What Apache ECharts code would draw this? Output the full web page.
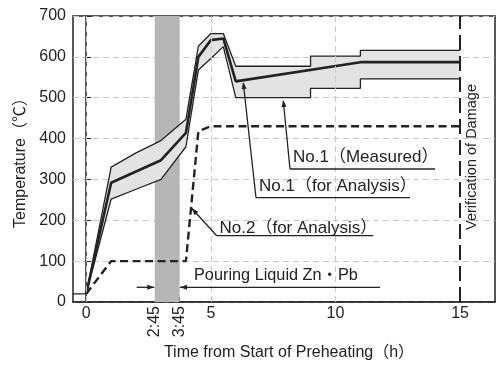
<!DOCTYPE html>
<html><head><meta charset="utf-8">
<script src="https://cdn.jsdelivr.net/npm/echarts@6/dist/echarts.min.js"></script>
<style>html,body{margin:0;padding:0;background:#fff}#c{width:497px;height:366px}</style>
</head><body><div id="c"></div>
<script>
// ---- data (hours, °C) ----
const xMin = -0.53, xMax = 16.4;
const preheatX = [xMin, 0];
const preheatT = [20, 20];
const bandX  = [0, 1, 2, 3, 4, 4.5, 5, 5.5, 6, 9, 9, 11, 11, 15];
const upperT = [20, 330, 365, 395, 447, 626, 657, 657, 577, 577, 602, 602, 616, 616];
const lowerT = [20, 252, 276, 300, 380, 568, 596, 625, 500, 500, 523, 523, 546, 546];
const no1AnalysisX = [0, 1, 3, 4, 4.5, 5, 5.5, 6, 11, 15];
const no1AnalysisT = [20, 292, 347, 414, 600, 641, 645, 540, 587, 587];
const no2AnalysisX = [0, 1, 4, 4.5, 5, 15];
const no2AnalysisT = [20, 100, 100, 418, 430, 430];
const pouringStart = 2.75, pouringEnd = 3.75;
const damageTime = 15;
const xTickMain = [0, 5, 10, 15];
const xTickPour = [2.75, 3.75];
const xTickPourLabels = {2.75: '2:45', 3.75: '3:45'};
const xGridLines = [0, 5, 10];

const FONT = "'Liberation Sans', Arial, 'Noto Sans CJK JP', sans-serif";
const INK = '#222';
const zip = (xs, ys) => xs.map((x, i) => [x, ys[i]]);

const chart = echarts.init(document.getElementById('c'), null, {renderer: 'canvas'});

function arrowHead(tip, from, len, half) {
  const dx = tip[0] - from[0], dy = tip[1] - from[1];
  const d = Math.hypot(dx, dy), ux = dx / d, uy = dy / d;
  const bx = tip[0] - ux * len, by = tip[1] - uy * len;
  return {type: 'polygon', z: 100, silent: true,
    shape: {points: [tip, [bx - uy * half, by + ux * half], [bx + uy * half, by - ux * half]]},
    style: {fill: INK}};
}
function seg(p1, p2, w) {
  return {type: 'line', z: 100, silent: true, shape: {x1: p1[0], y1: p1[1], x2: p2[0], y2: p2[1]},
    style: {stroke: INK, lineWidth: w || 1.3}};
}
function txt(x, y, s, size) {
  return {type: 'text', z: 100, silent: true, x: x, y: y,
    style: {text: s, font: (size || 17) + 'px ' + FONT, fill: INK, textVerticalAlign: 'middle', textAlign: 'left'}};
}

const graphics = [];
// No.1 (Measured)
graphics.push(txt(293, 157.5, 'No.1（Measured）'));
graphics.push(seg([290, 169], [435, 169]));
graphics.push(seg([290, 169], [283.3, 101]));
graphics.push(arrowHead([283.3, 100], [290, 169], 7, 2.5));
// No.1 (for Analysis)
graphics.push(txt(259, 186, 'No.1（for Analysis）'));
graphics.push(seg([256, 197.7], [410, 197.7]));
graphics.push(seg([256, 197.7], [243.3, 83]));
graphics.push(arrowHead([243.3, 82], [256, 197.7], 7, 2.5));
// No.2 (for Analysis)
graphics.push(txt(219.5, 228.3, 'No.2（for Analysis）'));
graphics.push(seg([216.7, 235.7], [373.3, 235.7]));
graphics.push(seg([216.7, 235.7], [191.7, 208.3]));
graphics.push(arrowHead([191.7, 208.3], [216.7, 235.7], 7, 2.5));
// Pouring
graphics.push(txt(194, 275.7, 'Pouring Liquid Zn・Pb', 16.3));
graphics.push(seg([136.7, 287.3], [154.3, 287.3]));
graphics.push(arrowHead([154.3, 287.3], [136.7, 287.3], 7, 2.5));
graphics.push(seg([380, 287.3], [180, 287.3]));
graphics.push(arrowHead([180, 287.3], [380, 287.3], 7, 2.5));
// Verification of Damage
graphics.push({type: 'text', z: 100, silent: true, x: 472, y: 157, rotation: Math.PI / 2,
  style: {text: 'Verification of Damage', font: '14.5px ' + FONT, fill: INK, textAlign: 'center', textVerticalAlign: 'middle'}});

const option = {
  animation: false,
  backgroundColor: '#fff',
  grid: {left: 73, right: 2, top: 16, bottom: 62.5, show: true, borderColor: INK, borderWidth: 1.5, backgroundColor: 'transparent'},
  xAxis: [{
    type: 'value', min: xMin, max: xMax,
    name: 'Time from Start of Preheating（h）', nameLocation: 'middle', nameGap: 43,
    nameTextStyle: {fontSize: 16, fontFamily: FONT, color: INK, padding: [0, 0, 0, 10]},
    axisLine: {show: true, lineStyle: {color: INK, width: 1.5}},
    axisTick: {show: true, inside: true, length: 5, customValues: [0, 2.75, 3.75, 5, 10, 15], lineStyle: {color: INK, width: 1}},
    axisLabel: {customValues: xTickMain, fontSize: 16, fontFamily: FONT, color: INK, margin: 4},
    splitLine: {show: false}
  }, {
    type: 'value', min: xMin, max: xMax, position: 'bottom',
    axisLine: {show: false}, axisTick: {show: false}, splitLine: {show: false},
    axisLabel: {customValues: xTickPour, rotate: 90, fontSize: 16, fontFamily: FONT, color: INK, margin: 4,
      formatter: v => xTickPourLabels[v] || ''}
  }],
  yAxis: {
    type: 'value', min: 0, max: 700, interval: 100,
    name: 'Temperature（℃）', nameLocation: 'middle', nameGap: 35,
    nameTextStyle: {fontSize: 16, fontFamily: FONT, color: INK},
    axisLine: {show: true, lineStyle: {color: INK, width: 1.5}},
    axisTick: {show: true, inside: true, length: 5, lineStyle: {color: INK}},
    axisLabel: {fontSize: 16, fontFamily: FONT, color: INK, margin: 7},
    splitLine: {show: true, lineStyle: {color: '#c8c8c8', type: [6, 4], width: 1}}
  },
  series: [
    {
      type: 'line', data: [], z: 1, silent: true,
      markArea: {silent: true, itemStyle: {color: '#b6b6b6'}, data: [[{xAxis: pouringStart}, {xAxis: pouringEnd}]]},
      markLine: {silent: true, symbol: 'none', label: {show: false},
        lineStyle: {color: '#c8c8c8', type: [6, 4], width: 1},
        data: xGridLines.map(v => ({xAxis: v}))}
    },
    {
      type: 'custom', z: 2, silent: true, clip: true,
      data: [[bandX[0], lowerT[0], upperT[0]]],
      renderItem: function (params, api) {
        const pts = [];
        for (let i = 0; i < bandX.length; i++) pts.push(api.coord([bandX[i], upperT[i]]));
        for (let i = bandX.length - 1; i >= 0; i--) pts.push(api.coord([bandX[i], lowerT[i]]));
        return {type: 'polygon', shape: {points: pts}, style: {fill: '#e3e3e3'}};
      }
    },
    {name: 'preheat', type: 'line', z: 3, symbol: 'none', silent: true, data: zip(preheatX, preheatT),
      lineStyle: {color: INK, width: 1.3}},
    {name: 'No.1 measured upper', type: 'line', z: 3, symbol: 'none', silent: true, data: zip(bandX, upperT),
      lineStyle: {color: INK, width: 1.3}},
    {name: 'No.1 measured lower', type: 'line', z: 3, symbol: 'none', silent: true, data: zip(bandX, lowerT),
      lineStyle: {color: INK, width: 1.3}},
    {name: 'No.1 analysis', type: 'line', z: 4, symbol: 'none', silent: true, data: zip(no1AnalysisX, no1AnalysisT),
      lineStyle: {color: INK, width: 2.6}},
    {name: 'No.2 analysis', type: 'line', z: 4, symbol: 'none', silent: true, data: zip(no2AnalysisX, no2AnalysisT),
      lineStyle: {color: INK, width: 2.4, type: [8, 4.5]}},
    {
      type: 'line', data: [], z: 4, silent: true,
      markLine: {silent: true, symbol: 'none', label: {show: false},
        lineStyle: {color: INK, type: [15, 6], width: 2},
        data: [{xAxis: damageTime}]}
    }
  ],
  graphic: graphics
};
chart.setOption(option);
</script></body></html>
